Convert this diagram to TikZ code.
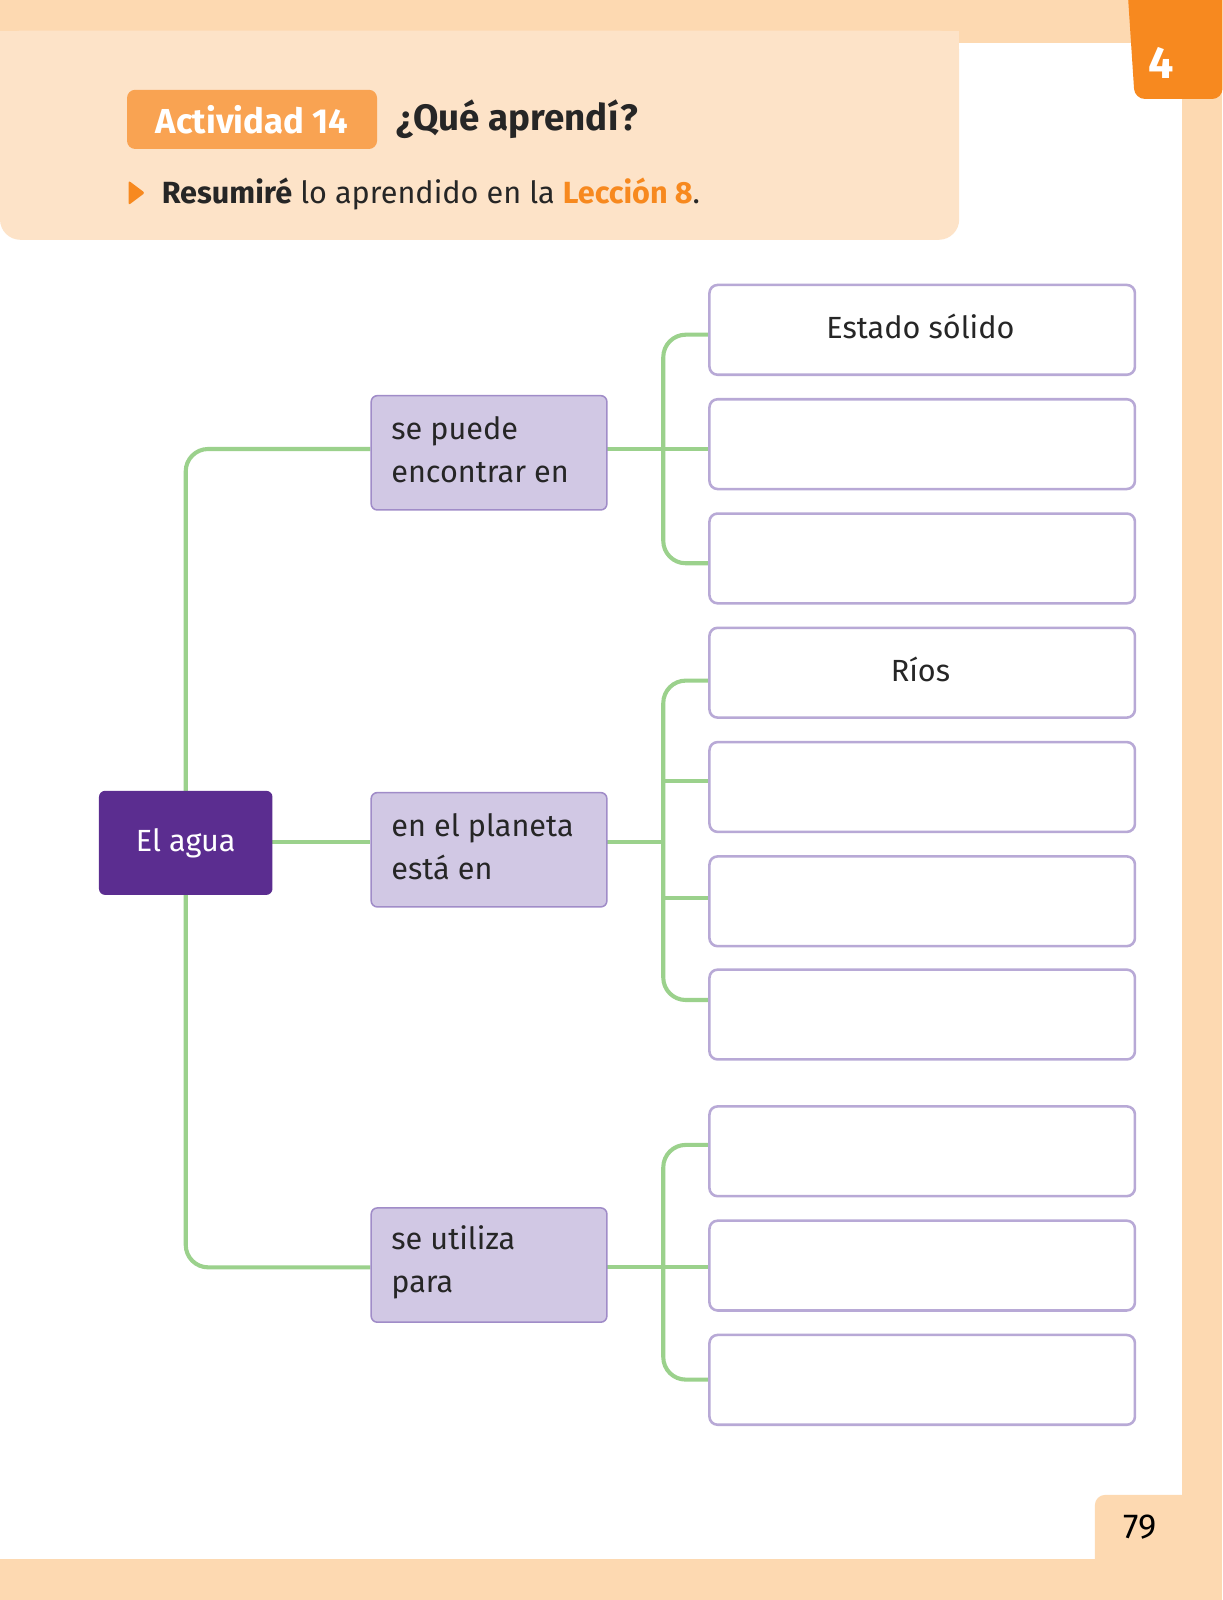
\documentclass[tikz,border=0pt]{standalone}
\usepackage{fontspec}
\setmainfont{Fira Sans}
\definecolor{peach}{HTML}{FDD9B1}
\definecolor{peachl}{HTML}{FDE3C8}
\definecolor{orng}{HTML}{F7891F}
\definecolor{orngl}{HTML}{F9A352}
\definecolor{purp}{HTML}{5B2D90}
\definecolor{lil}{HTML}{D1C8E4}
\definecolor{lilb}{HTML}{A08CC8}
\definecolor{grn}{HTML}{9BD18C}
\begin{document}
\begin{tikzpicture}[x=1pt,y=-1pt,
 mid/.style={draw=lilb,line width=1.5pt,fill=lil,rounded corners=6pt,minimum width=231pt,minimum height=112pt,anchor=north west,inner sep=0pt},
 ans/.style={draw=lilb!75,line width=2.5pt,fill=white,rounded corners=8pt,minimum width=417pt,minimum height=88pt,anchor=north west,inner sep=0pt},
 ln/.style={draw=grn,line width=4pt,rounded corners=22pt},
 txt/.style={font=\fontsize{30}{42}\selectfont,text=black!85}]
\useasboundingbox (0,0) rectangle (1198,1568);
\fill[white] (0,0) rectangle (1198,1568);
\fill[peach] (0,0) rectangle (1198,42);
\fill[peach] (1158,0) rectangle (1198,1568);
\fill[peach] (0,1528) rectangle (1198,1568);
\fill[peachl,rounded corners=20pt] (0,30) -- (940,30) -- (940,235) -- (0,235) -- cycle;
\fill[peachl] (0,30) rectangle (940,60);
\fill[orng,rounded corners=10pt] (1105,-10) -- (1198,-10) -- (1198,97) -- (1112,97) -- cycle;
\node[text=white,font=\bfseries\fontsize{44}{44}\selectfont] (four) at (1138,62) {4};
\fill[peach,rounded corners=10pt] (1073,1465) -- (1170,1465) -- (1170,1540) -- (1073,1540) -- cycle;
\node[font=\fontsize{34}{34}\selectfont] (pg) at (1117,1497) {79};
\node[fill=orngl,rounded corners=8pt,minimum width=245pt,minimum height=58pt,text=white,font=\bfseries\fontsize{34}{34}\selectfont] (act) at (247,117) {Actividad 14};
\node[anchor=west,font=\bfseries\fontsize{36}{36}\selectfont,text=black!85] (tit) at (385,117) {¿Qué aprendí?};
\fill[orng,rounded corners=2pt] (126,177) -- (142,189) -- (126,201) -- cycle;
\node[anchor=west,txt] (res) at (155,190) {\textbf{Resumiré} lo aprendido en la \textbf{\color{orng}Lección 8}.};
% lines
\draw[ln] (182,800) -- (182,440) -- (363,440);
\draw[ln] (182,850) -- (182,1242) -- (363,1242);
\draw[ln] (267,825) -- (363,825);
\draw[ln] (594,440) -- (694,440);
\draw[ln] (694,328) -- (650,328) -- (650,552) -- (694,552);
\draw[ln] (594,825) -- (650,825);
\draw[ln] (694,667) -- (650,667) -- (650,980) -- (694,980);
\draw[ln,rounded corners=0] (650,765) -- (694,765) (650,880) -- (694,880);
\draw[ln] (594,1242) -- (694,1242);
\draw[ln] (694,1122) -- (650,1122) -- (650,1352) -- (694,1352);
% nodes
\node[fill=purp,rounded corners=6pt,minimum width=170pt,minimum height=102pt,text=white,font=\fontsize{30}{30}\selectfont] (agua) at (182,826) {El agua};
\node[mid] (m1) at (363,387) {};
\node[anchor=west,txt,align=left] at (380,441) {se puede\\encontrar en};
\node[mid] (m2) at (363,776) {};
\node[anchor=west,txt,align=left] at (380,830) {en el planeta\\está en};
\node[mid] (m3) at (363,1183) {};
\node[anchor=west,txt,align=left] at (380,1237) {se utiliza\\para};
\node[ans] (a1) at (694,278) {}; \node[txt] at (902,320) {Estado sólido};
\node[ans] (a2) at (694,390) {};
\node[ans] (a3) at (694,502) {};
\node[ans] (b1) at (694,614) {}; \node[txt] at (902,656) {Ríos};
\node[ans] (b2) at (694,726) {};
\node[ans] (b3) at (694,838) {};
\node[ans] (b4) at (694,949) {};
\node[ans] (c1) at (694,1083) {};
\node[ans] (c2) at (694,1195) {};
\node[ans] (c3) at (694,1307) {};
\end{tikzpicture}
\end{document}
